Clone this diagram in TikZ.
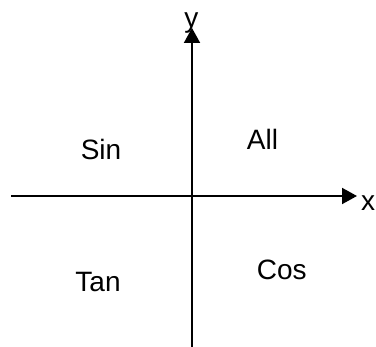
\documentclass[tikz,border=0pt]{standalone}
\usepackage{fontspec}
\setmainfont{Liberation Sans}
\usetikzlibrary{arrows.meta}
\begin{document}
\begin{tikzpicture}[x=1pt,y=-1pt,
  lbl/.style={anchor=base,inner sep=0pt,font=\fontsize{28}{34}\selectfont},
  axis/.style={line width=2pt,-{Triangle[length=15pt,width=16pt]}}]
\useasboundingbox (0,0) rectangle (376,347);
\node[lbl] (sin) at (101,160) {Sin};
\node[lbl] (all) at (262.5,150) {All};
\node[lbl] (tan) at (98,292) {Tan};
\node[lbl] (cos) at (281.7,280) {Cos};
\node[lbl] (ylab) at (191.5,28) {y};
\node[lbl] (xlab) at (368,211) {x};
\coordinate (xl) at (11,196);
\coordinate (xr) at (357,196);
\coordinate (yb) at (192,347);
\coordinate (yt) at (192,28);
\draw[axis] (xl) -- (xr);
\draw[axis] (yb) -- (yt);
\end{tikzpicture}
\end{document}
